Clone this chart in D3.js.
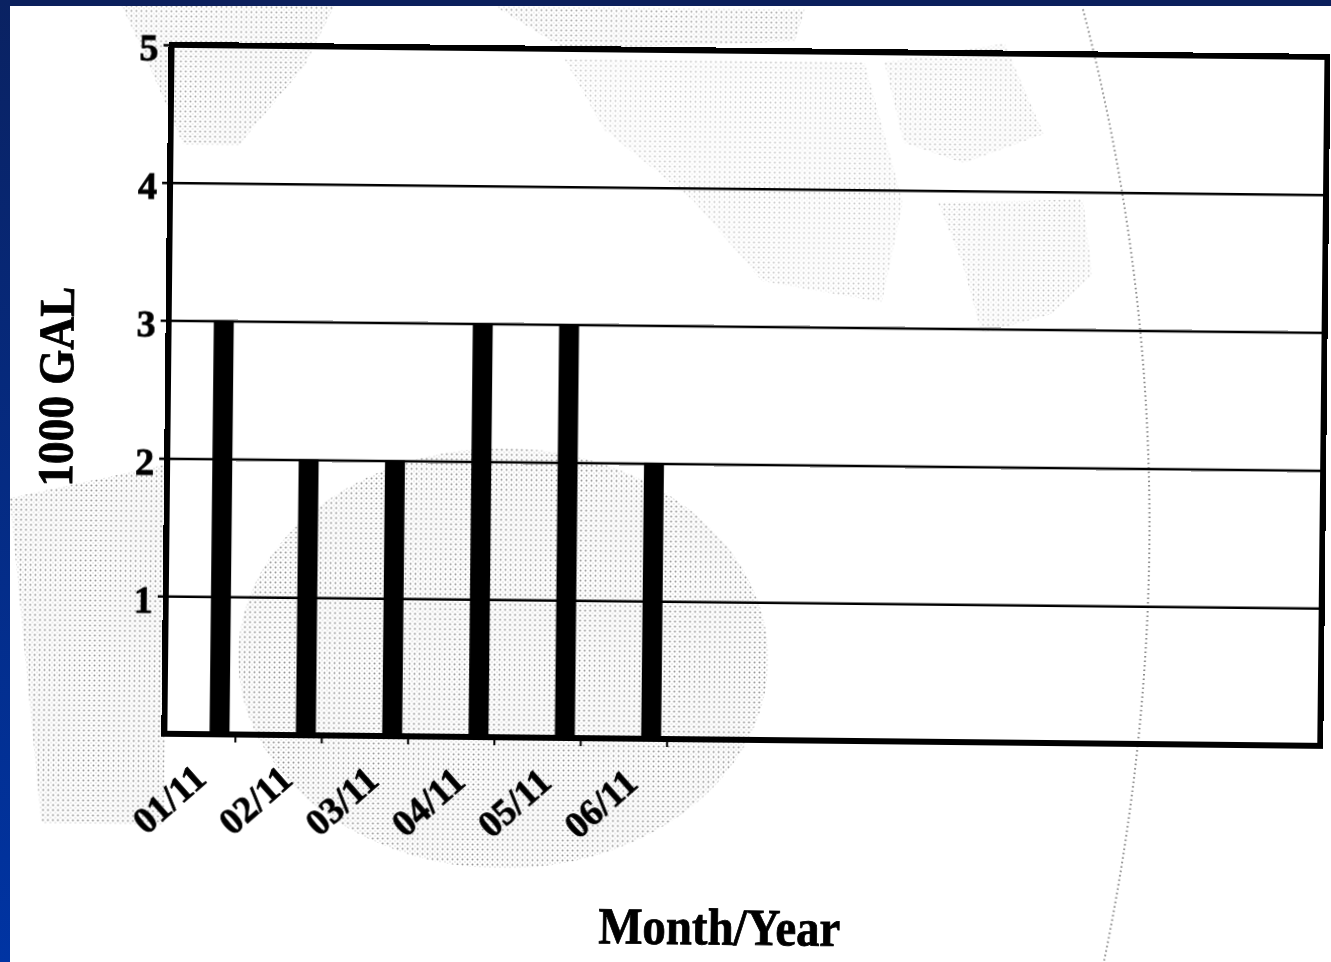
<!DOCTYPE html>
<html>
<head>
<meta charset="utf-8">
<script src="https://cdn.jsdelivr.net/npm/d3@7"></script>
<style>
  html, body { margin: 0; padding: 0; background: #fff; }
  svg { display: block; }
</style>
</head>
<body>
<svg width="1331" height="962"></svg>
<script>
// monthly usage, thousands of gallons
const months = ["01/11", "02/11", "03/11", "04/11", "05/11", "06/11"];
const gallons = [3, 2, 2, 3, 3, 2];
const yTicks = [1, 2, 3, 4, 5];

var svg = d3.select("svg"),
  W = +svg.attr("width"),
  H = +svg.attr("height"),
  plot = { left: 167, top: 50, right: 1323, bottom: 739 };
var serif = "'Liberation Serif', 'Times New Roman', serif";

var defs = svg.append("defs");
var grad = defs.append("linearGradient").attr("id", "side").attr("x1", 0).attr("y1", 0).attr("x2", 0).attr("y2", 1);
grad.append("stop").attr("offset", "0%").attr("stop-color", "#0a2262");
grad.append("stop").attr("offset", "100%").attr("stop-color", "#0034a3");
var pat = defs.append("pattern").attr("id", "dots").attr("patternUnits", "userSpaceOnUse").attr("width", 5).attr("height", 5);
pat.append("circle").attr("cx", 1.5).attr("cy", 1.5).attr("r", 1).attr("fill", "#666");
pat.append("circle").attr("cx", 4).attr("cy", 4).attr("r", 0.7).attr("fill", "#aaa");

// whole scan is a little tilted
var g = svg.append("g").attr("transform", "rotate(0.6," + W / 2 + "," + H / 2 + ")");

// halftone watermark behind the chart
var wm = g.append("g").attr("fill", "url(#dots)").attr("opacity", 0.7);
wm.append("ellipse").attr("cx", 505).attr("cy", 660).attr("rx", 265).attr("ry", 210);
wm.append("path").attr("d", "M10,505 L165,470 L168,830 L45,830 Z");
wm.append("path").attr("d", "M115,8 L330,8 L300,70 L235,150 L180,150 L140,60 Z").attr("opacity", 0.8);
wm.append("path").attr("d", "M490,8 L800,8 L790,40 L560,50 Z").attr("opacity", 0.8);
wm.append("path").attr("d", "M560,60 L860,60 L900,200 L880,300 L760,280 L690,200 L600,130 Z").attr("opacity", 0.5);
wm.append("path").attr("d", "M880,60 L1000,40 L1040,130 L960,160 L900,140 Z").attr("opacity", 0.55);
wm.append("path").attr("d", "M935,200 L1080,195 L1090,270 L1050,310 L980,330 L960,260 Z").attr("opacity", 0.55);
g.append("path")
  .attr("d", "M1078,5 Q1205,470 1108,962")
  .attr("fill", "none")
  .attr("stroke", "#888")
  .attr("stroke-width", 2)
  .attr("stroke-dasharray", "1.5,3");

var x = d3
  .scaleBand()
  .domain(months)
  .range([179, 697])
  .paddingInner(0.769)
  .paddingOuter(0.3845);
var y = d3
  .scaleLinear()
  .domain([0, 5])
  .range([plot.bottom, plot.top]);

// grid lines, poking a little out to the left
g.append("g")
  .attr("transform", "translate(" + (plot.left - 8) + ",0)")
  .call(
    d3.axisLeft(y)
      .tickValues(yTicks)
      .tickSize(-(plot.right - plot.left + 8))
      .tickFormat("")
  )
  .call(a => a.select(".domain").remove())
  .selectAll("line")
  .attr("stroke", "#000")
  .attr("stroke-width", 2.5);

g.append("g")
  .attr("transform", "translate(" + plot.left + ",0)")
  .call(d3.axisLeft(y).tickValues(yTicks).tickSize(0).tickPadding(13).tickFormat(d3.format("d")))
  .call(a => a.select(".domain").remove())
  .selectAll("text")
  .attr("dy", "0.42em")
  .style("font-family", serif)
  .style("font-weight", "bold")
  .style("font-size", "38px")
  .attr("fill", "#000")
  .attr("stroke", "#000")
  .attr("stroke-width", 0.8);

g.selectAll(".bar")
  .data(gallons)
  .enter()
  .append("rect")
  .attr("class", "bar")
  .attr("x", (d, i) => x(months[i]))
  .attr("y", d => y(d))
  .attr("width", x.bandwidth())
  .attr("height", d => y(0) - y(d))
  .attr("fill", "#000");

// category ticks sit just right of each bar
var xa = g.append("g")
  .attr("transform", "translate(" + (x.bandwidth() / 2 + 6) + "," + plot.bottom + ")")
  .call(d3.axisBottom(x).tickSize(8).tickSizeOuter(0));
xa.select(".domain").remove();
xa.selectAll("line").attr("stroke", "#000").attr("stroke-width", 2);
xa.selectAll("text")
  .attr("y", 0)
  .attr("dy", 0)
  .attr("transform", "translate(-27,47) rotate(-42)")
  .style("text-anchor", "end")
  .style("font-family", serif)
  .style("font-weight", "bold")
  .style("font-size", "37px")
  .attr("fill", "#000")
  .attr("stroke", "#000")
  .attr("stroke-width", 0.8);

// heavy plot frame
g.append("rect")
  .attr("x", plot.left)
  .attr("y", plot.top)
  .attr("width", plot.right - plot.left)
  .attr("height", plot.bottom - plot.top)
  .attr("fill", "none")
  .attr("stroke", "#000")
  .attr("stroke-width", 6);

g.append("text")
  .attr("transform", "translate(72,393) rotate(-90)")
  .attr("text-anchor", "middle")
  .attr("textLength", 200)
  .attr("lengthAdjust", "spacingAndGlyphs")
  .attr("stroke", "#000")
  .attr("stroke-width", 0.8)
  .style("font-family", serif)
  .style("font-weight", "bold")
  .style("font-size", "50px")
  .text("1000 GAL");

g.append("text")
  .attr("x", 724)
  .attr("y", 944)
  .attr("text-anchor", "middle")
  .attr("textLength", 242)
  .attr("lengthAdjust", "spacingAndGlyphs")
  .attr("stroke", "#000")
  .attr("stroke-width", 0.8)
  .style("font-family", serif)
  .style("font-weight", "bold")
  .style("font-size", "52px")
  .text("Month/Year");

// slide frame edges
svg.append("rect").attr("x", 0).attr("y", 0).attr("width", W).attr("height", 6).attr("fill", "#0b1f5c");
svg.append("rect").attr("x", 0).attr("y", 0).attr("width", 10).attr("height", H).attr("fill", "url(#side)");
</script>
</body>
</html>
